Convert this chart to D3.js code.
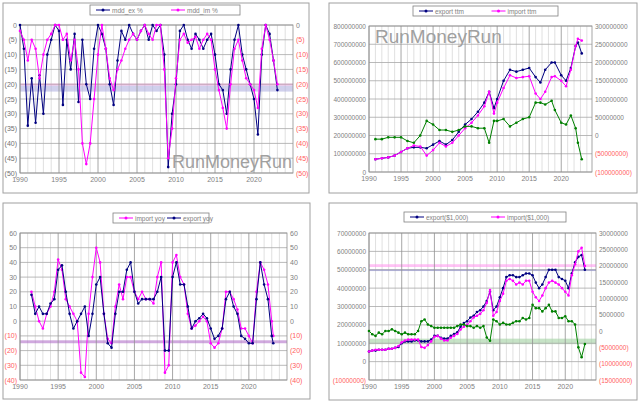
<!DOCTYPE html><html><head><meta charset="utf-8"><script src="https://cdn.jsdelivr.net/npm/d3@7/dist/d3.min.js"></script>
<style>body{margin:0;background:#fff}text{font-family:"Liberation Sans",Arial,sans-serif}</style></head><body><svg id="c" width="639" height="402"></svg><script>
const halfYears = d3.range(1990, 2023.01, 0.5);
const mddEx = [0,-8,-34,-18,-33,-17,-30,-10,-5,0,-2,-27,-5,-15,-3,-26,-5,-20,-25,-8,0,-3,-8,-20,-27,-12,-2,-5,0,-3,-5,-2,0,-5,0,-2,0,-10,-48,-30,-20,-2,0,-5,-8,-3,-5,-8,-5,-3,-10,-20,-22,-30,-15,-5,0,-10,-15,-20,-25,-37,-10,0,-3,-12,-22];
const mddIm = [-2,-5,-12,-5,-8,-18,-10,-5,-3,0,0,-5,-3,-12,-5,-15,-40,-47,-40,-25,-10,0,-8,-18,-22,-15,-12,-8,-5,-3,-5,-2,0,-3,-5,0,0,-15,-45,-35,-18,-5,-3,-6,-5,-4,-8,-5,-3,-5,-15,-22,-28,-35,-20,-8,-5,-12,-18,-20,-22,-28,-8,0,-5,-12,-20];
const ttmYears = [1991,1992,1993,1994,1995,1996,1997,1998,1999,2000,2001,2002,2003,2004,2005,2006,2007,2008,2008.75,2009.5,2010,2011,2012,2013,2014,2015,2016,2016.75,2017.5,2018.5,2019,2020,2020.75,2021.5,2022.25,2022.6,2023.2];
const exportTtm = [70,75,80,90,110,130,135,135,130,150,170,150,175,220,260,290,330,380,440,350,400,500,560,550,560,570,520,490,560,600,600,530,500,570,690,710,650];
const importTtm = [70,75,80,90,110,130,145,140,90,120,160,140,160,200,240,270,310,360,440,320,380,460,530,515,520,525,430,400,440,520,525,500,470,560,690,730,720];
const balanceTtm = [-10,-10,-5,-5,-5,-15,-20,0,40,30,15,15,10,15,25,25,20,20,-20,40,40,45,25,35,45,50,90,90,85,95,70,35,30,55,20,-20,-65];
const yoyYears = d3.range(1991.5, 2023.01, 0.5).concat([2023.2]);
const exportYoy = [18,5,10,5,5,12,15,35,38,20,5,-5,0,5,10,-10,5,25,30,5,-15,-18,5,20,20,35,40,20,12,15,15,15,15,20,30,-20,-20,30,40,25,25,10,-5,0,2,5,2,-5,-12,-10,-5,15,20,10,5,-10,-12,-15,-15,15,40,25,15,-10,-15];
const importYoy = [20,10,0,-5,5,10,20,42,35,15,10,5,0,-35,-38,5,30,50,40,5,-12,-15,10,25,15,30,30,20,15,20,15,15,12,30,40,-35,-30,40,45,30,25,5,-5,-3,0,3,0,-15,-18,-15,-5,20,20,15,8,-5,-5,-10,-15,20,40,35,25,0,-10];
const exportMon = [5.5,6,6,6.5,6.5,6.5,7,7,7.5,8,10,11,11,11,11.5,11.5,11,11,11,12,14,14,13,12.5,12.5,14,15,16,19,21,22,24,25,27,28,30,33,38,28,30,35,40,46,47,47,46,46,47,48,48,47,43,40,42,46,50,50,50,46,45,44,40,48,54,57,58,50];
const importMon = [5.5,6,6.5,6.5,6.5,6.5,7,7,7.5,8.5,10.5,11.5,12,12,12,12,8,7.5,9,11,13.5,14,12.5,11.5,11.5,13,14,15,17.5,19,20,22,24,25,26,28,32,39,25,27,33,37,44,45,44,42,43,42,44,44,38,35,33,36,40,43,44,43,42,40,38,36,47,53,60,62,52];
const balanceMon = [0,-1,-1.5,-0.5,-1,0,0,0.5,0,-0.5,-1,-0.5,-1,-1,-1,0,3,3.5,2,1.5,1,1,1,1,1,1,1,1.5,2,2,1.5,1.5,1,1.5,1,1.5,-2,-3,3.5,3,2,2.5,2,2,2.5,3,3,4,3.5,4,8,7,7,6,7,8,6,6,4,4,4.5,3,3,2,-5,-8,-4];
const xTicks = [1990,1995,2000,2005,2010,2015,2020];

const svg = d3.select("#c");
const NAVY="#000080", MAG="#ff00ff", GRN="#008000";
const fmt = (v,div)=>{const n=Math.round(v/div);return n<0?"("+Math.abs(n)+")":String(n);};
const fmtBig = v=> v<0?"("+Math.abs(v)+")":String(v);

function panel(o){
  const g = svg.append("g");
  g.append("rect").attr("x",o.box[0]).attr("y",o.box[1]).attr("width",o.box[2]).attr("height",o.box[3]).attr("fill","#fff").attr("stroke","#a0a0a0");
  const x = d3.scaleLinear().domain([1990,o.xEnd]).range([o.l,o.r]);
  const y = d3.scaleLinear().domain(o.yL).range([o.b,o.t]);
  const y2 = d3.scaleLinear().domain(o.yR).range([o.b,o.t]);
  g.selectAll(".mv").data(d3.range(1991,o.xEnd,1).filter(v=>v%5)).join("line").attr("x1",x).attr("x2",x).attr("y1",o.t).attr("y2",o.b).attr("stroke","#d8d8d8").attr("stroke-width",0.8);
  (o.bands||[]).forEach(bd=>{
    const sc = bd.right?y2:y;
    g.append("rect").attr("x",o.l).attr("width",o.r-o.l).attr("y",sc(bd.v[1])).attr("height",Math.max(1,sc(bd.v[0])-sc(bd.v[1]))).attr("fill",bd.c).attr("opacity",bd.op||0.5);
  });
  const yt = d3.range(o.yL[0],o.yL[1]+o.yStep/2,o.yStep);
  g.selectAll(".hg").data(yt).join("line").attr("x1",o.l).attr("x2",o.r).attr("y1",y).attr("y2",y).attr("stroke","#a8a8a8").attr("stroke-width",0.8);
  g.selectAll(".vg").data(xTicks).join("line").attr("x1",x).attr("x2",x).attr("y1",o.t).attr("y2",o.b).attr("stroke","#909090").attr("stroke-width",0.8);
  g.append("rect").attr("x",o.l).attr("y",o.t).attr("width",o.r-o.l).attr("height",o.b-o.t).attr("fill","none").attr("stroke","#909090").attr("stroke-width",0.8);
  g.selectAll(".yl").data(yt).join("text").attr("x",o.l-3).attr("y",d=>y(d)+2.5).attr("text-anchor","end").attr("font-size",o.fs||7)
    .attr("fill",d=>d<0?(o.leftNeg||"#ff6060"):"#808080").text(d=>o.fmtL(d));
  const yt2 = d3.range(o.yR[0],o.yR[1]+o.yStep2/2,o.yStep2);
  g.selectAll(".yr").data(yt2).join("text").attr("x",o.r+3).attr("y",d=>y2(d)+2.5).attr("text-anchor","start").attr("font-size",o.fs||7)
    .attr("fill",d=>d<0?"#ff6060":"#808080").text(d=>o.fmtR(d));
  g.selectAll(".xl").data(xTicks).join("text").attr("x",x).attr("y",o.b+9).attr("text-anchor","middle").attr("font-size",7).attr("fill","#808080").text(d=>d);
  if(o.wm) g.append("text").attr("x",o.wm[0]).attr("y",o.wm[1]).attr("font-size",o.wm[2]).attr("fill","#a0a0a0").text("RunMoneyRun");
  o.series.forEach(s=>{
    const sc = s.right?y2:y;
    const pts = s.xs.map((xv,i)=>[x(xv),sc(s.v[i])]);
    g.append("path").attr("d",d3.line()(pts)).attr("fill","none").attr("stroke",s.c).attr("stroke-width",1);
    g.selectAll(null).data(pts).join("circle").attr("cx",d=>d[0]).attr("cy",d=>d[1]).attr("r",1.3).attr("fill",s.c);
  });
  const L=o.leg;
  g.append("rect").attr("x",L[0]).attr("y",L[1]).attr("width",L[2]).attr("height",10).attr("fill","#fff").attr("stroke","#808080").attr("stroke-width",0.8);
  o.series.filter(s=>s.name).forEach((s,i)=>{
    const lx = L[0]+6+i*L[2]/2, ly=L[1]+5;
    g.append("line").attr("x1",lx).attr("x2",lx+14).attr("y1",ly).attr("y2",ly).attr("stroke",s.c);
    g.append("circle").attr("cx",lx+7).attr("cy",ly).attr("r",1.5).attr("fill",s.c);
    g.append("text").attr("x",lx+16).attr("y",ly+2.5).attr("font-size",6.5).attr("fill","#808080").text(s.name);
  });
}

panel({box:[3,3,306,190],l:20,r:293,t:25,b:173,xEnd:2025,yL:[-50,0],yStep:5,yR:[-50,0],yStep2:5,leftNeg:"#707070",
  fmtL:d=>fmt(d,1),fmtR:d=>fmt(d,1),wm:[172,168,18],leg:[90,5,150],
  bands:[{v:[-22.5,-20.4],c:"#b0b0e0",op:0.6},{v:[-20.4,-19.8],c:"#ff99dd",op:0.7}],
  series:[{name:"mdd_ex %",xs:halfYears,v:mddEx,c:NAVY},{name:"mdd_im %",xs:halfYears,v:mddIm,c:MAG}]});

panel({box:[329,3,308,190],l:369,r:592,t:26,b:172,xEnd:2024.8,yL:[0,800e6],yStep:100e6,yR:[-100e6,300e6],yStep2:50e6,fs:6.5,
  fmtL:fmtBig,fmtR:fmtBig,wm:[375,43,19],leg:[413,6,145],
  series:[{name:"export ttm",xs:ttmYears,v:exportTtm.map(v=>v*1e6),c:NAVY},{name:"import ttm",xs:ttmYears,v:importTtm.map(v=>v*1e6),c:MAG},{xs:ttmYears,v:balanceTtm.map(v=>v*1e6),c:GRN,right:true}]});

panel({box:[3,203,307,196],l:20,r:287,t:233,b:380,xEnd:2025,yL:[-40,60],yStep:10,yR:[-40,60],yStep2:10,
  fmtL:d=>fmt(d,1),fmtR:d=>fmt(d,1),leg:[113,213,96],
  bands:[{v:[-15,-13],c:"#b070c8",op:0.6}],
  series:[{name:"import yoy",xs:yoyYears,v:importYoy,c:MAG},{name:"export yoy",xs:yoyYears,v:exportYoy,c:NAVY}]});

panel({box:[329,203,308,197],l:369,r:596,t:233,b:380,xEnd:2024.7,yL:[-10e6,70e6],yStep:10e6,yR:[-15e6,30e6],yStep2:5e6,fs:6.5,
  fmtL:fmtBig,fmtR:fmtBig,leg:[404,212,162],
  bands:[{v:[51.5e6,53e6],c:"#ff99ee",op:0.6},{v:[49.3e6,50.3e6],c:"#9090d0",op:0.7},{v:[9.5e6,12.5e6],c:"#a0d0a0",op:0.6}],
  series:[{name:"export($1,000)",xs:halfYears,v:exportMon.map(v=>v*1e6),c:NAVY},{name:"import($1,000)",xs:halfYears,v:importMon.map(v=>v*1e6),c:MAG},{xs:halfYears,v:balanceMon.map(v=>v*1e6),c:GRN,right:true}]});
</script></body></html>
